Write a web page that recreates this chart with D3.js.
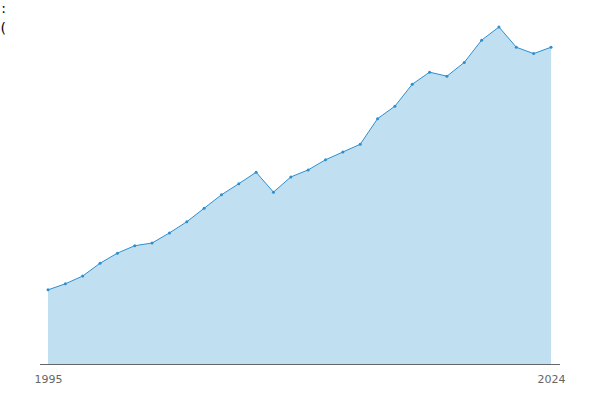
<!DOCTYPE html>
<html>
<head>
<meta charset="utf-8">
<script src="https://cdn.jsdelivr.net/npm/d3@7"></script>
<style>
  body { margin: 0; background: #fff; }
  svg { display: block; font-family: "DejaVu Sans", sans-serif; }
</style>
</head>
<body>
<svg id="chart" width="600" height="400"></svg>
<script>
width = 600;
height = 400;

years = [1995, 1996, 1997, 1998, 1999, 2000, 2001, 2002, 2003, 2004,
         2005, 2006, 2007, 2008, 2009, 2010, 2011, 2012, 2013, 2014,
         2015, 2016, 2017, 2018, 2019, 2020, 2021, 2022, 2023, 2024];
values = [22.0, 23.8, 26.1, 29.9, 32.9, 35.1, 35.9, 38.9, 42.2, 46.2,
          50.2, 53.5, 56.9, 51.0, 55.5, 57.6, 60.6, 62.9, 65.2, 72.8,
          76.5, 83.0, 86.6, 85.4, 89.5, 96.1, 100.0, 94.0, 92.1, 94.0];
tickYears = [1995, 2024];
titleLines = [["Annual total", ":"], ["Index ", "("]];

margin = {top: 27, right: 40, bottom: 36, left: 40};
inset = 8;

data = years.map((y, i) => ({year: y, value: values[i]}));

svg = d3.select('#chart');

x = d3.scaleLinear()
	.domain(d3.extent(years))
	.range([margin.left + inset, width - margin.right - inset - 1]);

y = d3.scaleLinear()
	.domain([0, d3.max(values)])
	.range([height - margin.bottom, margin.top]);

area = d3.area()
	.x(d => x(d.year))
	.y0(y(0))
	.y1(d => y(d.value));

line = d3.line()
	.x(d => x(d.year))
	.y(d => y(d.value));

svg.append('path')
	.datum(data)
	.attr('fill', '#c0dff1')
	.attr('d', area);

svg.append('path')
	.datum(data)
	.attr('fill', 'none')
	.attr('stroke', '#2f8fce')
	.attr('stroke-width', 1)
	.attr('d', line);

svg.selectAll('.dot')
	.data(data)
	.enter().append('circle')
	.attr('class', 'dot')
	.attr('cx', d => x(d.year))
	.attr('cy', d => y(d.value))
	.attr('r', 1.5)
	.attr('fill', '#2f8fce');

// x axis: plain line + end labels
axis = svg.append('g')
	.attr('transform', `translate(0,${y(0) + 0.5})`)
	.call(d3.axisBottom(x).tickValues(tickYears).tickFormat(d3.format('d')).tickSize(0).tickPadding(11));
axis.select('.domain')
	.attr('d', `M${margin.left},0H${width - margin.right}`)
	.attr('stroke', '#666');
axis.selectAll('text')
	.attr('fill', '#666')
	.attr('font-size', 11)
	.attr('font-family', '"DejaVu Sans", sans-serif');

// title, mostly off the left edge
title = svg.selectAll('.title')
	.data(titleLines)
	.enter().append('text')
	.attr('class', 'title')
	.attr('x', 6)
	.attr('y', (d, i) => 13 + i * 20)
	.attr('text-anchor', 'end')
	.attr('font-size', 14)
	.attr('fill', '#000');
title.append('tspan').text(d => d[0]);
title.append('tspan').attr('dx', 3).text(d => d[1]);
</script>
</body>
</html>
